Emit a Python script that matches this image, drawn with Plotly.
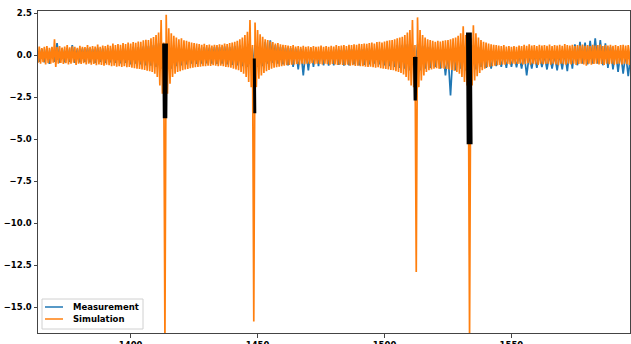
import plotly.graph_objects as go

# ---------------- data ----------------
# Simulation: upper / lower extent of the signal, one value per unit of x, starting at 1363
sim_start = 1363
sim_hi = [
    0.45, 0.52, 0.42, 0.5, 0.55, 0.44, 0.5, 0.95, 0.48, 0.55,
    0.46, 0.52, 0.6, 0.47, 0.53, 0.5, 0.44, 0.56, 0.5, 0.48,
    0.6, 0.5, 0.55, 0.52, 0.64, 0.5, 0.58, 0.55, 0.62, 0.56,
    0.7, 0.6, 0.66, 0.62, 0.72, 0.66, 0.75, 0.7, 0.78, 0.74,
    0.82, 0.8, 0.88, 0.92, 0.9, 1.0, 1.08, 1.2, 1.35, 2.1,
    0.75, 2.4, 1.6, 1.3, 1.15, 1.05, 0.95, 1.0, 0.88, 0.85,
    0.8, 0.76, 0.72, 0.7, 0.66, 0.62, 0.68, 0.6, 0.64, 0.58,
    0.62, 0.6, 0.65, 0.62, 0.7, 0.66, 0.72, 0.75, 0.8, 0.85,
    0.95, 1.05, 1.2, 1.4, 2.1, 0.6, 1.95, 1.5, 1.25, 1.1,
    0.95, 0.9, 0.82, 0.78, 0.7, 0.72, 0.65, 0.62, 0.6, 0.58,
    0.55, 0.6, 0.52, 0.55, 0.5, 0.56, 0.5, 0.53, 0.48, 0.55,
    0.5, 0.52, 0.58, 0.5, 0.54, 0.5, 0.56, 0.52, 0.6, 0.55,
    0.58, 0.6, 0.55, 0.62, 0.6, 0.65, 0.62, 0.68, 0.66, 0.7,
    0.68, 0.72, 0.75, 0.7, 0.78, 0.8, 0.76, 0.82, 0.85, 0.88,
    0.9, 0.95, 1.0, 1.05, 1.1, 1.2, 1.35, 1.5, 2.1, 0.6,
    2.25, 1.5, 1.2, 1.05, 0.95, 0.9, 0.85, 0.8, 0.85, 0.82,
    0.85, 0.88, 0.9, 0.95, 1.0, 1.05, 1.15, 1.3, 1.72, 1.2,
    0.5, 1.0, 1.78, 1.3, 1.05, 0.9, 0.8, 0.75, 0.7, 0.65,
    0.62, 0.6, 0.58, 0.55, 0.6, 0.52, 0.55, 0.5, 0.54, 0.5,
    0.58, 0.55, 0.62, 0.56, 0.65, 0.57, 0.6, 0.55, 0.62, 0.57,
    0.6, 0.56, 0.63, 0.55, 0.6, 0.58, 0.62, 0.56, 0.66, 0.6,
    0.57, 0.62, 0.55, 0.6, 0.57, 0.64, 0.56, 0.6, 0.55, 0.62,
    0.57, 0.6, 0.64, 0.55, 0.6, 0.57, 0.62, 0.56, 0.6, 0.55,
    0.6, 0.62, 0.57, 0.61, 0.56,
]
sim_lo = [
    -0.45, -0.5, -0.42, -0.55, -0.48, -0.5, -0.44, -0.7, -0.5, -0.46,
    -0.52, -0.48, -0.55, -0.5, -0.45, -0.58, -0.5, -0.52, -0.47, -0.55,
    -0.5, -0.56, -0.52, -0.6, -0.55, -0.58, -0.62, -0.56, -0.6, -0.65,
    -0.62, -0.68, -0.65, -0.7, -0.66, -0.72, -0.7, -0.75, -0.78, -0.8,
    -0.82, -0.85, -0.88, -0.92, -0.95, -1.0, -1.1, -1.3, -1.8, -2.3,
    -17.0, -2.3, -1.7, -1.3, -1.1, -1.0, -0.95, -0.9, -0.85, -0.82,
    -0.78, -0.75, -0.72, -0.7, -0.68, -0.65, -0.66, -0.62, -0.64, -0.6,
    -0.62, -0.65, -0.63, -0.66, -0.7, -0.72, -0.75, -0.8, -0.85, -0.9,
    -1.0, -1.1, -1.3, -1.6, -1.9, -15.85, -1.9, -1.4, -1.2, -1.05,
    -0.95, -0.88, -0.8, -0.75, -0.72, -0.68, -0.65, -0.62, -0.6, -0.58,
    -0.56, -0.55, -0.52, -0.55, -0.5, -0.54, -0.5, -0.52, -0.48, -0.53,
    -0.5, -0.52, -0.55, -0.5, -0.53, -0.56, -0.52, -0.55, -0.58, -0.55,
    -0.58, -0.6, -0.57, -0.62, -0.6, -0.64, -0.62, -0.66, -0.65, -0.68,
    -0.7, -0.68, -0.72, -0.75, -0.72, -0.78, -0.8, -0.82, -0.85, -0.88,
    -0.9, -0.95, -1.0, -1.05, -1.15, -1.3, -1.5, -1.8, -1.9, -12.9,
    -1.9, -1.5, -1.2, -1.0, -0.9, -0.85, -0.8, -0.78, -0.8, -0.78,
    -0.8, -0.82, -0.85, -0.88, -0.92, -1.0, -1.1, -1.3, -1.6, -1.8,
    -17.0, -1.8, -1.5, -1.25, -1.05, -0.9, -0.8, -0.72, -0.68, -0.65,
    -0.62, -0.6, -0.58, -0.55, -0.57, -0.52, -0.55, -0.5, -0.54, -0.52,
    -0.5, -0.55, -0.52, -0.48, -0.56, -0.5, -0.53, -0.58, -0.5, -0.54,
    -0.52, -0.5, -0.56, -0.5, -0.55, -0.6, -0.5, -0.53, -0.56, -0.5,
    -0.55, -0.5, -0.58, -0.52, -0.5, -0.55, -0.62, -0.5, -0.56, -0.52,
    -0.5, -0.55, -0.52, -0.58, -0.5, -0.54, -0.5, -0.56, -0.52, -0.5,
    -0.55, -0.5, -0.53, -0.58, -0.5,
]

# Measurement: upper extent at odd x (1363, 1365, ...), lower extent at even x (1364, 1366, ...)
meas_start = 1363
meas_hi = [
    0.35, 0.38, 0.4, 0.45, 0.72, 0.4, 0.42, 0.6, 0.38, 0.4,
    0.42, 0.38, 0.45, 0.4, 0.42, 0.45, 0.4, 0.48, 0.45, 0.5,
    0.48, 0.52, 0.55, 0.6, 0.7, 0.6, 0.7, 0.6, 0.55, 0.5,
    0.48, 0.5, 0.45, 0.48, 0.45, 0.5, 0.48, 0.52, 0.5, 0.55,
    0.58, 0.6, 0.65, 0.62, 0.6, 0.8, 0.88, 0.6, 0.5, 0.45,
    0.42, 0.4, 0.38, 0.35, 0.4, 0.35, 0.3, 0.32, 0.3, 0.35,
    0.3, 0.32, 0.35, 0.3, 0.35, 0.4, 0.42, 0.45, 0.5, 0.52,
    0.55, 0.6, 0.62, 0.65, 0.6, 0.65, 0.55, 0.5, 0.45, 0.4,
    0.3, 0.1, 0.3, 0.5, 0.6, 0.55, 0.6, 0.5, 0.3, 0.2,
    0.15, 0.2, 0.1, 0.15, 0.1, 0.05, 0.1, 0.0, 0.1, 0.05,
    0.0, 0.05, 0.0, 0.1, 0.2, 0.4, 0.65, 0.8, 0.75, 0.85,
    1.0, 0.9, 0.7, 0.5, 0.3, 0.2, 0.1, 0.05,
]
meas_lo = [
    -0.4, -0.42, -0.52, -0.4, -0.45, -0.42, -0.4, -0.45, -0.42, -0.4,
    -0.42, -0.45, -0.4, -0.45, -0.42, -0.45, -0.48, -0.45, -0.55, -0.5,
    -0.55, -0.6, -0.62, -0.7, -0.8, -0.9, -0.8, -0.65, -0.6, -0.55,
    -0.5, -0.52, -0.5, -0.48, -0.5, -0.52, -0.5, -0.55, -0.58, -0.6,
    -0.65, -0.7, -0.75, -0.7, -0.65, -0.5, -0.45, -0.5, -0.55, -0.6,
    -0.7, -0.85, -1.2, -0.9, -0.7, -0.65, -0.6, -0.62, -0.6, -0.58,
    -0.62, -0.6, -0.55, -0.6, -0.58, -0.55, -0.5, -0.55, -0.6, -0.65,
    -0.7, -0.75, -0.8, -0.9, -1.0, -0.9, -0.8, -0.75, -0.7, -0.8,
    -1.2, -2.4, -0.9, -0.8, -0.9, -1.0, -0.85, -0.7, -0.75, -0.8,
    -0.65, -0.7, -0.75, -0.7, -0.72, -0.8, -1.2, -0.8, -0.75, -0.7,
    -0.85, -0.8, -0.9, -0.85, -0.95, -0.8, -0.6, -0.5, -0.55, -0.5,
    -0.5, -0.6, -0.75, -0.85, -1.0, -1.1, -1.25, -1.0,
]

# Black resonance segments: x positions of the strokes and their top / bottom values
black_x = [
    [1412.8, 1413.05, 1413.3, 1413.55, 1413.8, 1414.05, 1414.3],
    [1448.5, 1448.7, 1448.9, 1449.1],
    [1511.6, 1511.85, 1512.1, 1512.35, 1512.6],
    [1532.5, 1532.75, 1533.0, 1533.25, 1533.5, 1533.75, 1534.0, 1534.3],
]
black_top = [0.7, -0.2, -0.1, 1.35]
black_bottom = [-3.75, -3.45, -2.7, -5.3]

series_names = ["Measurement", "Simulation"]
x_ticks = [1400, 1450, 1500, 1550]
y_ticks = [2.5, 0.0, -2.5, -5.0, -7.5, -10.0, -12.5, -15.0]
x_range = [1363.5, 1596.7]
y_range = [-16.53, 2.63]

# ---------------- build zig-zag traces from the extents ----------------
sim_x, sim_y = [], []
for i, (h, l) in enumerate(zip(sim_hi, sim_lo)):
    sim_x += [sim_start + i, sim_start + i + 0.5]
    sim_y += [h, l]

meas_x, meas_y = [], []
for i, (h, l) in enumerate(zip(meas_hi, meas_lo)):
    meas_x += [meas_start + 2 * i, meas_start + 2 * i + 1]
    meas_y += [h, l]

bx, by = [], []
for xs, t, b in zip(black_x, black_top, black_bottom):
    for j, xv in enumerate(xs):
        bx.append(xv)
        by.append(t if j % 2 == 0 else b)
    bx.append(None)
    by.append(None)

BLUE = "#1f77b4"
ORANGE = "#ff7f0e"
colors = [BLUE, ORANGE]
FONT = dict(family="DejaVu Sans", size=8.5, color="black", weight="bold")

fig = go.Figure()
fig.add_trace(go.Scatter(x=meas_x, y=meas_y, mode="lines", name=series_names[0], showlegend=False,
                         line=dict(color=BLUE, width=1.7, simplify=False)))
fig.add_trace(go.Scatter(x=sim_x, y=sim_y, mode="lines", name=series_names[1], showlegend=False,
                         line=dict(color=ORANGE, width=1.7, simplify=False)))
fig.add_trace(go.Scatter(x=bx, y=by, mode="lines", showlegend=False,
                         line=dict(color="black", width=2, simplify=False)))

# ---------------- layout ----------------
W, H = 631, 344
ML, MR, MT, MB = 38, 1, 11, 11
PW, PH = W - ML - MR, H - MT - MB


def px(xp):
    return (xp - ML) / PW


def py(yp):
    return (H - MB - yp) / PH


axis_common = dict(showgrid=False, zeroline=False, showline=True, linecolor="#444",
                   linewidth=1, mirror=True, ticks="outside", ticklen=3.5, tickwidth=1,
                   tickcolor="#444", tickfont=FONT, automargin=False)

shapes = [dict(type="rect", xref="paper", yref="paper", x0=px(42), x1=px(143), y0=py(329), y1=py(299),
               line=dict(color="#d0d0d0", width=1), fillcolor="rgba(255,255,255,0.85)", layer="above")]
annotations = []
for k, (name, col) in enumerate(zip(series_names, colors)):
    yy = 307 + 12 * k
    shapes.append(dict(type="line", xref="paper", yref="paper", x0=px(45), x1=px(63), y0=py(yy), y1=py(yy),
                       line=dict(color=col, width=1.5), layer="above"))
    annotations.append(dict(xref="paper", yref="paper", x=px(71), y=py(yy), text=name, showarrow=False,
                            xanchor="left", yanchor="middle", font=FONT))

fig.update_layout(
    width=W, height=H,
    margin=dict(l=ML, r=MR, t=MT, b=MB),
    plot_bgcolor="white", paper_bgcolor="white",
    xaxis=dict(range=x_range, tickvals=x_ticks, ticktext=[str(v) for v in x_ticks], **axis_common),
    yaxis=dict(range=y_range, tickvals=y_ticks, tickformat=".1f", **axis_common),
    shapes=shapes, annotations=annotations,
    showlegend=False,
)

fig.write_html("out.html", config={"displayModeBar": False},
               post_script="document.body.style.margin='0';")
